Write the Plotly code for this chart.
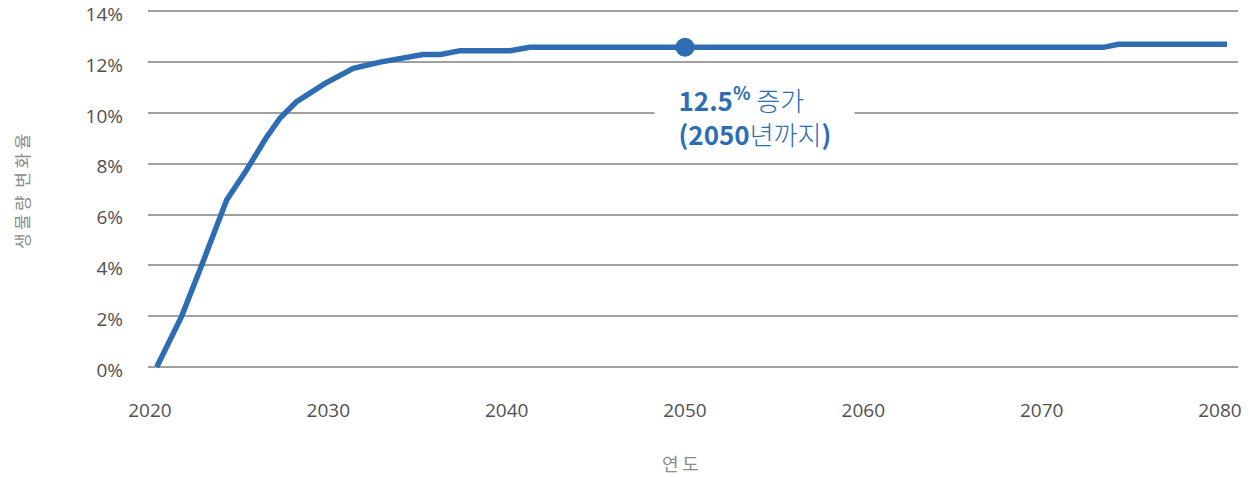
import plotly.graph_objects as go

# Data
years = [2020.38, 2021.78, 2022.9, 2024.3, 2025.4, 2026.5, 2027.3, 2028.2, 2029.8, 2031.4,
         2032.9, 2034.2, 2035.3, 2036.3, 2037.4, 2040.2, 2041.3, 2050.0, 2060.0, 2070.0,
         2073.45, 2074.3, 2080.4]
change_pct = [0.0, 2.0, 4.0, 6.57, 7.73, 9.0, 9.8, 10.43, 11.15, 11.75,
              12.0, 12.15, 12.3, 12.3, 12.45, 12.45, 12.58, 12.58, 12.58, 12.58,
              12.58, 12.7, 12.7]
highlight_year = [2050]
highlight_value = [12.58]
x_ticks = [2020, 2030, 2040, 2050, 2060, 2070, 2080]
y_ticks = [0, 2, 4, 6, 8, 10, 12, 14]
y_tick_labels = [f"{v}%" for v in y_ticks]

BLUE = "#2e6db4"
FONT = "Open Sans, Noto Sans CJK KR, sans-serif"
KR = "Noto Sans CJK KR, sans-serif"
TS = "\u2009"  # thin space used as letter spacing
NB = "\u00a0" * 3  # left padding inside the label box

# The page body has an 8px margin, so the figure is drawn 8px in from the page corner.
W, H = 1247, 469
L, R, T, B = 140, 17, 2, 105
pw, ph = W - L - R, H - T - B

fig = go.Figure()
fig.add_trace(go.Scatter(
    x=years, y=change_pct, mode="lines",
    line=dict(color=BLUE, width=5.5), hoverinfo="x+y", showlegend=False))
fig.add_trace(go.Scatter(
    x=highlight_year, y=highlight_value, mode="markers",
    marker=dict(color=BLUE, size=19), showlegend=False, cliponaxis=False))

fig.add_annotation(
    x=2053.9, y=9.9, xref="x", yref="y",
    text=(NB + "<b>12.5<sup>%</sup></b> <span style='font-weight:300'>증가</span><br>"
          + NB + "<b>(2050</b><span style='font-weight:300'>년까지</span><b>)</b>"),
    showarrow=False, align="left", width=187,
    font=dict(family=KR, size=26, color=BLUE),
    bgcolor="white", borderpad=6)


def px_to_paper(px, py):
    # px, py in figure pixels
    return (px - L) / pw, (H - B - py) / ph


yx, yy = px_to_paper(14, 184)
fig.add_annotation(
    x=yx, y=yy, xref="paper", yref="paper",
    text=TS.join("생물량") + "  " + TS.join("변화율"),
    showarrow=False, textangle=-90, xanchor="center", yanchor="middle",
    font=dict(family=KR, size=17, color="#8c8c8c"))
xx, xy = px_to_paper(672, 455)
fig.add_annotation(
    x=xx, y=xy, xref="paper", yref="paper", text=TS.join("연도"),
    showarrow=False, xanchor="center", yanchor="middle",
    font=dict(family=KR, size=18, color="#8c8c8c"))

fig.update_layout(
    width=W, height=H,
    margin=dict(l=L, r=R, t=T, b=B, autoexpand=False),
    paper_bgcolor="white", plot_bgcolor="white",
    font=dict(family=FONT, size=19, color="#505050"),
    showlegend=False,
)
fig.update_xaxes(
    range=[2019.89, 2081.01], tickvals=x_ticks, showgrid=False, zeroline=False,
    showline=False, ticks="", ticklabelstandoff=25, automargin=False,
    ticklabeloverflow="allow",
    tickfont=dict(size=19, color="#505050"),
)
fig.update_yaxes(
    range=[-0.2, 14.05], tickvals=y_ticks, ticktext=y_tick_labels,
    showgrid=True, gridcolor="#a0a0a0", gridwidth=1.5, zeroline=False,
    showline=False, ticks="", ticklabelstandoff=24, ticklabelshift=3,
    automargin=False, ticklabeloverflow="allow",
    tickfont=dict(size=19, color="#505050"),
)

fig.write_html("out.html")
